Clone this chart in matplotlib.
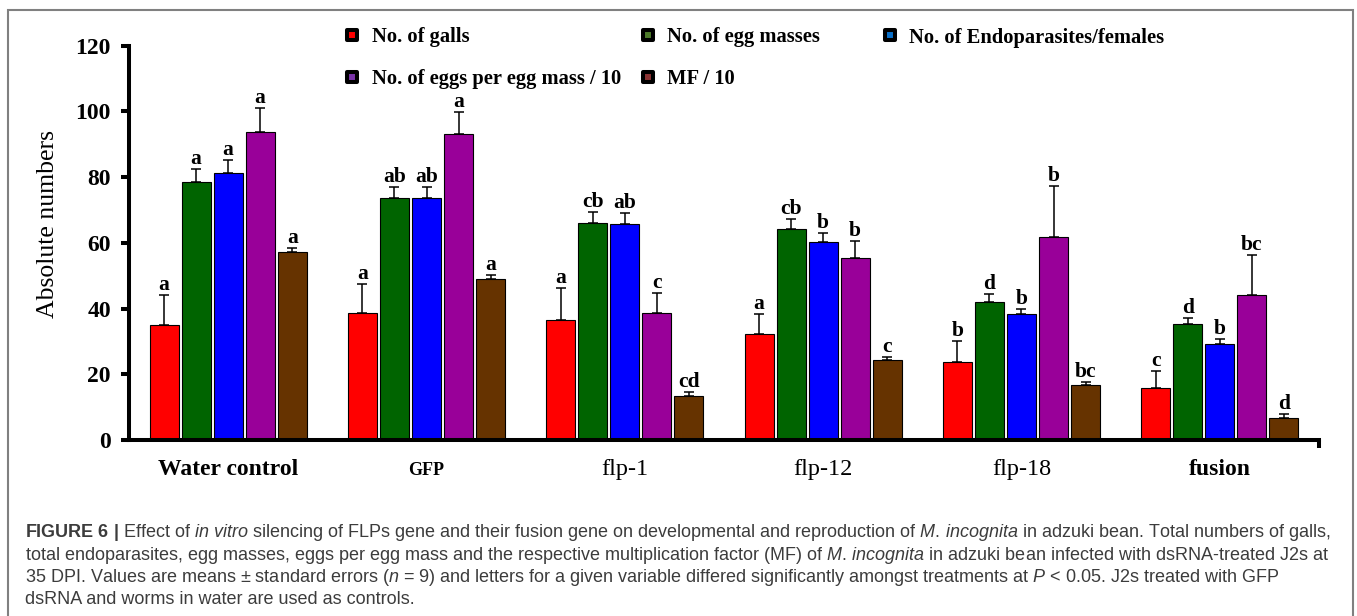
import matplotlib
matplotlib.use("Agg")
import matplotlib.pyplot as plt
from matplotlib.lines import Line2D
from matplotlib.markers import MarkerStyle
from matplotlib.patches import Rectangle
import numpy as np

# ---------------- data ----------------
categories = ["Water control", "GFP", "flp-1", "flp-12", "flp-18", "fusion"]
series_names = ["No. of galls", "No. of egg masses", "No. of Endoparasites/females",
                "No. of eggs per egg mass / 10", "MF / 10"]

galls = [35.1, 38.5, 36.4, 32.2, 23.8, 15.9]
galls_se = [9.1, 8.9, 10.0, 6.1, 6.3, 5.0]
egg_masses = [78.5, 73.6, 66.1, 64.1, 42.1, 35.4]
egg_masses_se = [3.9, 3.5, 3.3, 3.1, 2.2, 1.7]
endoparasites = [81.4, 73.6, 65.8, 60.2, 38.2, 29.1]
endoparasites_se = [3.8, 3.5, 3.2, 2.7, 1.7, 1.7]
eggs_per_mass = [93.8, 93.1, 38.5, 55.3, 61.9, 44.2]
eggs_per_mass_se = [7.1, 6.6, 6.1, 5.3, 15.5, 12.1]
mf = [57.3, 49.1, 13.5, 24.4, 16.6, 6.7]
mf_se = [1.1, 1.2, 1.1, 1.0, 1.1, 1.1]

galls_letters = ["a", "a", "a", "a", "b", "c"]
egg_masses_letters = ["a", "ab", "cb", "cb", "d", "d"]
endoparasites_letters = ["a", "ab", "ab", "b", "b", "b"]
eggs_per_mass_letters = ["a", "a", "c", "b", "b", "bc"]
mf_letters = ["a", "a", "cd", "c", "bc", "d"]

caption_lines = [
    r"$\mathbf{FIGURE\ 6\ |}$ Effect of $\mathit{in}$ $\mathit{vitro}$ silencing of FLPs gene and their fusion gene on developmental and reproduction of $\mathit{M.\,incognita}$ in adzuki bean. Total numbers of galls,",
    r"total endoparasites, egg masses, eggs per egg mass and the respective multiplication factor (MF) of $\mathit{M.\,incognita}$ in adzuki bean infected with dsRNA-treated J2s at",
    r"35 DPI. Values are means ± standard errors ($\mathit{n}$ = 9) and letters for a given variable differed significantly amongst treatments at $\mathit{P}$ < 0.05. J2s treated with GFP",
    r"dsRNA and worms in water are used as controls.",
]

# ---------------- styles ----------------
bar_colors = ["#ff0000", "#006400", "#0000ff", "#990099", "#663300"]
legend_colors = ["#ff0000", "#4d7a2a", "#0a6fc8", "#7a33a8", "#8b3333"]
cat_weights = ["bold", "bold", "normal", "normal", "normal", "bold"]
cat_sizes = [17, 13, 17.5, 17.5, 17.5, 17]

plt.rcParams["mathtext.fontset"] = "custom"
plt.rcParams["mathtext.rm"] = "Liberation Sans"
plt.rcParams["mathtext.it"] = "Liberation Sans:italic"
plt.rcParams["mathtext.bf"] = "Liberation Sans:bold"

W, H = 1357, 616
fig = plt.figure(figsize=(W / 100, H / 100), dpi=100)
fig.patch.set_facecolor("white")

ax = fig.add_axes([129 / W, 1 - 440 / H, 1190 / W, (440 - 45.7) / H])

values = [galls, egg_masses, endoparasites, eggs_per_mass, mf]
errors = [galls_se, egg_masses_se, endoparasites_se, eggs_per_mass_se, mf_se]
letters = [galls_letters, egg_masses_letters, endoparasites_letters,
           eggs_per_mass_letters, mf_letters]

idx = np.arange(len(categories))
step = 0.1614
width = 0.146
serif = "Liberation Serif"

for i, (vals, errs, col, lets) in enumerate(zip(values, errors, bar_colors, letters)):
    x = idx + (i - 2) * step
    ax.bar(x, vals, width, color=col, edgecolor="black", linewidth=0.8, zorder=2)
    ax.errorbar(x, vals, yerr=[np.zeros(len(vals)), errs], fmt="none",
                ecolor="black", elinewidth=1.1, capsize=3.85, capthick=1.1, zorder=3)
    for xx, v, e, t in zip(x, vals, errs, lets):
        ax.annotate(t, (xx, v + e), xytext=(0, 3.6), textcoords="offset points",
                    ha="center", va="baseline", fontsize=15.5, fontweight="bold",
                    family=serif, zorder=4)

ax.set_xlim(-0.5, 5.5)
ax.set_ylim(0, 120)

for s in ["top", "right"]:
    ax.spines[s].set_visible(False)
for s in ["left", "bottom"]:
    ax.spines[s].set_linewidth(2.9)
    ax.spines[s].set_color("black")

ax.set_yticks(np.arange(0, 121, 20))
ax.set_yticklabels([str(v) for v in range(0, 121, 20)], fontsize=17,
                   fontweight="bold", family=serif)
ax.tick_params(axis="y", length=5.8, width=2.9, pad=7.2, direction="out")

ax.set_xticks(idx)
ax.set_xticklabels(categories)
ax.tick_params(axis="x", which="major", length=0, pad=25)
for lab, w, s in zip(ax.get_xticklabels(), cat_weights, cat_sizes):
    lab.set_fontweight(w)
    lab.set_fontsize(s)
    lab.set_family(serif)
    lab.set_va("baseline")
ax.set_xticks([5.5], minor=True)
ax.tick_params(axis="x", which="minor", length=5.8, width=2.9, direction="out")

ax.set_ylabel("Absolute numbers", fontsize=18.5, family=serif)
ax.yaxis.label.set_va("center")
ax.yaxis.set_label_coords(-0.068, 0.548)


# ---------------- legend ----------------
def handle(c):
    return Line2D([], [], linestyle="none",
                  marker=MarkerStyle("s", joinstyle="round"), markersize=6.5,
                  markerfacecolor=c, markeredgecolor="black", markeredgewidth=2.9)


leg_kw = dict(frameon=False, prop={"family": serif, "weight": "bold", "size": 14.8},
              handlelength=1.0, handletextpad=0.43, labelspacing=1.05,
              borderpad=0, borderaxespad=0, loc="center left",
              bbox_transform=fig.transFigure)

groups = [([0, 3], 342.2, 58.0), ([1, 4], 637.7, 58.0), ([2], 879.7, 37.5)]
for members, lx, ly in groups:
    hs = [handle(legend_colors[m]) for m in members]
    ls = [series_names[m] for m in members]
    fig.legend(hs, ls, bbox_to_anchor=(lx / W, 1 - ly / H), **leg_kw)

# ---------------- caption ----------------
baselines = [537, 559.5, 582, 603.5]
for line, yb in zip(caption_lines, baselines):
    fig.text(25 / W, 1 - yb / H, line, fontsize=13, family="Liberation Sans",
             color="#3c3c3c", va="baseline", ha="left")

# border box
fig.add_artist(Rectangle((8 / W, -0.05), 1345 / W, 1 - 10 / H + 0.05,
                         transform=fig.transFigure, fill=False,
                         edgecolor="#808080", linewidth=1.5))

fig.savefig("out.png", dpi=100)
